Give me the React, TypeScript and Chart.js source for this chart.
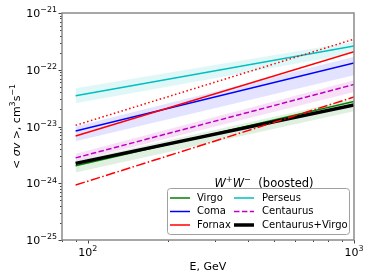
import React, { useEffect, useRef } from 'react';
import { Chart, registerables } from 'chart.js';
Chart.register(...registerables);

// ---- data ----
const energies = [90, 1000]; // GeV
const perseus = [3.47e-23, 2.63e-22];
const perseusLo = [2.57e-23, 1.96e-22];
const perseusHi = [4.7e-23, 3.1e-22];
const coma = [8.3e-24, 1.32e-22];
const comaLo = [5.5e-24, 7.96e-23];
const comaHi = [1.0e-23, 1.69e-22];
const fornax = [6.8e-24, 2.07e-22];
const fornaxDotted = [1.05e-23, 3.46e-22];
const fornaxDashDot = [9.3e-25, 3.3e-23];
const centaurus = [2.8e-24, 5.5e-23];
const centaurusLo = [2.45e-24, 4.07e-23];
const centaurusHi = [3.3e-24, 6.5e-23];
const virgo = [2.04e-24, 2.75e-23];
const virgoLo = [1.55e-24, 1.85e-23];
const virgoHi = [2.5e-24, 3.05e-23];
const combined = [2.24e-24, 2.4e-23];

const xMin = 80;
const xMax = 1000;
const yMin = 1e-25;
const yMax = 1e-21;
const xMajorTicks = [100, 1000];
const xTickExps = ['2', '3'];
const yMajorTicks = [1e-25, 1e-24, 1e-23, 1e-22, 1e-21];
const yTickExps = ['\u221225', '\u221224', '\u221223', '\u221222', '\u221221'];

const legendCol1 = ['Virgo', 'Coma', 'Fornax'];
const legendCol2 = ['Perseus', 'Centaurus', 'Centaurus+Virgo'];

const FONT = '"DejaVu Sans", sans-serif';

const pts = (ys: number[]) => energies.map((x, i) => ({ x, y: ys[i] }));

type Part = { t: string; sup?: boolean; it?: boolean };

function drawRich(ctx: CanvasRenderingContext2D, parts: Part[], x: number, y: number, fs: number, align: 'left' | 'center' | 'right') {
  const supFs = fs * 0.72;
  const fontOf = (p: Part) => `${p.it ? 'italic ' : ''}${p.sup ? supFs : fs}px ${FONT}`;
  let total = 0;
  const widths = parts.map((p) => {
    ctx.font = fontOf(p);
    const w = ctx.measureText(p.t).width;
    total += w;
    return w;
  });
  let cx = align === 'left' ? x : align === 'center' ? x - total / 2 : x - total;
  ctx.textAlign = 'left';
  ctx.textBaseline = 'alphabetic';
  parts.forEach((p, i) => {
    ctx.font = fontOf(p);
    ctx.fillText(p.t, cx, p.sup ? y - fs * 0.42 : y);
    cx += widths[i];
  });
}

export default function App() {
  const ref = useRef<HTMLCanvasElement | null>(null);

  useEffect(() => {
    if (!ref.current) return;
    const lineDs = (label: string, ys: number[], color: string, width: number, dash: number[], order: number) => ({
      label,
      data: pts(ys),
      borderColor: color,
      backgroundColor: color,
      borderWidth: width,
      borderDash: dash,
      pointRadius: 0,
      fill: false,
      order,
    });
    const bandHi = (ys: number[], color: string) => ({
      label: '',
      data: pts(ys),
      borderWidth: 0,
      borderColor: 'rgba(0,0,0,0)',
      backgroundColor: color,
      pointRadius: 0,
      fill: '+1',
      order: 20,
    });
    const bandLo = (ys: number[]) => ({
      label: '',
      data: pts(ys),
      borderWidth: 0,
      borderColor: 'rgba(0,0,0,0)',
      pointRadius: 0,
      fill: false,
      order: 20,
    });

    const datasets: any[] = [
      bandHi(perseusHi, 'rgba(0,191,191,0.12)'),
      bandLo(perseusLo),
      bandHi(comaHi, 'rgba(0,0,255,0.11)'),
      bandLo(comaLo),
      bandHi(centaurusHi, 'rgba(191,0,191,0.12)'),
      bandLo(centaurusLo),
      bandHi(virgoHi, 'rgba(0,128,0,0.12)'),
      bandLo(virgoLo),
      lineDs('Virgo', virgo, '#008000', 1.5, [], 9),
      lineDs('Coma', coma, '#0000ff', 1.5, [], 8),
      lineDs('Fornax', fornax, '#ff0000', 1.5, [], 7),
      lineDs('Perseus', perseus, '#00bfbf', 1.5, [], 6),
      lineDs('Centaurus', centaurus, '#bf00bf', 1.5, [5.5, 2.4], 5),
      lineDs('Centaurus+Virgo', combined, '#000000', 3.5, [], 4),
      lineDs('', fornaxDotted, '#ff0000', 1.5, [1.5, 2.5], 3),
      lineDs('', fornaxDashDot, '#ff0000', 1.5, [9.6, 2.4, 1.5, 2.4], 2),
    ];

    const decorPlugin = {
      id: 'decor',
      afterDraw(chart: any) {
        const ctx: CanvasRenderingContext2D = chart.ctx;
        const ca = chart.chartArea;
        const xs = chart.scales.x;
        const ys = chart.scales.y;
        ctx.save();
        // ticks
        ctx.strokeStyle = '#444';
        ctx.lineWidth = 1;
        const yTick = (v: number, len: number) => {
          const py = Math.round(ys.getPixelForValue(v)) + 0.5;
          ctx.beginPath();
          ctx.moveTo(ca.left, py);
          ctx.lineTo(ca.left - len, py);
          ctx.stroke();
        };
        const xTick = (v: number, len: number) => {
          const px = Math.round(xs.getPixelForValue(v)) + 0.5;
          ctx.beginPath();
          ctx.moveTo(px, ca.bottom);
          ctx.lineTo(px, ca.bottom + len);
          ctx.stroke();
        };
        for (let d = -25; d < -21; d++) {
          for (let k = 2; k <= 9; k++) yTick(k * Math.pow(10, d), 2);
        }
        yMajorTicks.forEach((v) => yTick(v, 3.5));
        [80, 90, 200, 300, 400, 500, 600, 700, 800, 900].forEach((v) => xTick(v, 2));
        xMajorTicks.forEach((v) => xTick(v, 3.5));
        // frame
        ctx.strokeStyle = '#8a8a8a';
        ctx.lineWidth = 1.5;
        ctx.strokeRect(ca.left, ca.top, ca.right - ca.left, ca.bottom - ca.top);
        // tick labels
        ctx.fillStyle = '#000';
        yMajorTicks.forEach((v, i) => {
          const py = ys.getPixelForValue(v);
          drawRich(ctx, [{ t: '10' }, { t: yTickExps[i], sup: true }], ca.left - 5, py + 4, 11, 'right');
        });
        xMajorTicks.forEach((v, i) => {
          const px = xs.getPixelForValue(v);
          drawRich(ctx, [{ t: '10' }, { t: xTickExps[i], sup: true }], px, 255.5, 11, 'center');
        });
        // axis titles
        drawRich(ctx, [{ t: 'E, GeV' }], (ca.left + ca.right) / 2, 270, 11, 'center');
        ctx.save();
        ctx.translate(20, (ca.top + ca.bottom) / 2);
        ctx.rotate(-Math.PI / 2);
        drawRich(
          ctx,
          [{ t: '< ' }, { t: '\u03c3v', it: true }, { t: ' >, cm' }, { t: '3', sup: true }, { t: 's' }, { t: '\u22121', sup: true }],
          0,
          0,
          11,
          'center'
        );
        ctx.restore();
        // legend box
        const bx = 167.5, by = 188.5, bw = 182, bh = 46, r = 3;
        ctx.beginPath();
        ctx.moveTo(bx + r, by);
        ctx.lineTo(bx + bw - r, by);
        ctx.quadraticCurveTo(bx + bw, by, bx + bw, by + r);
        ctx.lineTo(bx + bw, by + bh - r);
        ctx.quadraticCurveTo(bx + bw, by + bh, bx + bw - r, by + bh);
        ctx.lineTo(bx + r, by + bh);
        ctx.quadraticCurveTo(bx, by + bh, bx, by + bh - r);
        ctx.lineTo(bx, by + r);
        ctx.quadraticCurveTo(bx, by, bx + r, by);
        ctx.closePath();
        ctx.fillStyle = 'rgba(255,255,255,0.8)';
        ctx.fill();
        ctx.strokeStyle = '#a0a0a0';
        ctx.lineWidth = 1;
        ctx.stroke();
        // legend title
        ctx.fillStyle = '#000';
        drawRich(
          ctx,
          [{ t: 'W', it: true }, { t: '+', sup: true }, { t: 'W', it: true }, { t: '\u2212', sup: true }, { t: '  (boosted)' }],
          264,
          187,
          11.5,
          'center'
        );
        const rowsY = [198, 211.5, 225];
        const handle = (x0: number, y: number, ds: any) => {
          ctx.beginPath();
          ctx.strokeStyle = ds.borderColor;
          ctx.lineWidth = ds.borderWidth;
          ctx.setLineDash(ds.borderDash || []);
          ctx.moveTo(x0, y);
          ctx.lineTo(x0 + 20, y);
          ctx.stroke();
          ctx.setLineDash([]);
        };
        const findDs = (name: string) => datasets.find((d) => d.label === name);
        legendCol1.forEach((name, i) => {
          handle(170, rowsY[i], findDs(name));
          ctx.fillStyle = '#000';
          ctx.font = `10px ${FONT}`;
          ctx.textAlign = 'left';
          ctx.textBaseline = 'middle';
          ctx.fillText(name, 197, rowsY[i]);
        });
        legendCol2.forEach((name, i) => {
          handle(234, rowsY[i], findDs(name));
          ctx.fillStyle = '#000';
          ctx.font = `10px ${FONT}`;
          ctx.textAlign = 'left';
          ctx.textBaseline = 'middle';
          ctx.fillText(name, 262, rowsY[i]);
        });
        ctx.restore();
      },
    };

    const chart = new Chart(ref.current, {
      type: 'line',
      data: { datasets },
      options: {
        animation: false,
        responsive: false,
        events: [],
        layout: { padding: { left: 62, top: 13, right: 20, bottom: 40 } },
        plugins: {
          legend: { display: false },
          tooltip: { enabled: false },
          filler: { drawTime: 'beforeDatasetsDraw' },
        } as any,
        scales: {
          x: { type: 'logarithmic', min: xMin, max: xMax, display: false },
          y: { type: 'logarithmic', min: yMin, max: yMax, display: false },
        },
      },
      plugins: [decorPlugin],
    });
    return () => chart.destroy();
  }, []);

  return (
    <div style={{ position: 'absolute', left: 0, top: 0, width: 374, height: 280, background: '#fff' }}>
      <canvas ref={ref} width={374} height={280} style={{ display: 'block', width: 374, height: 280 }} />
    </div>
  );
}
